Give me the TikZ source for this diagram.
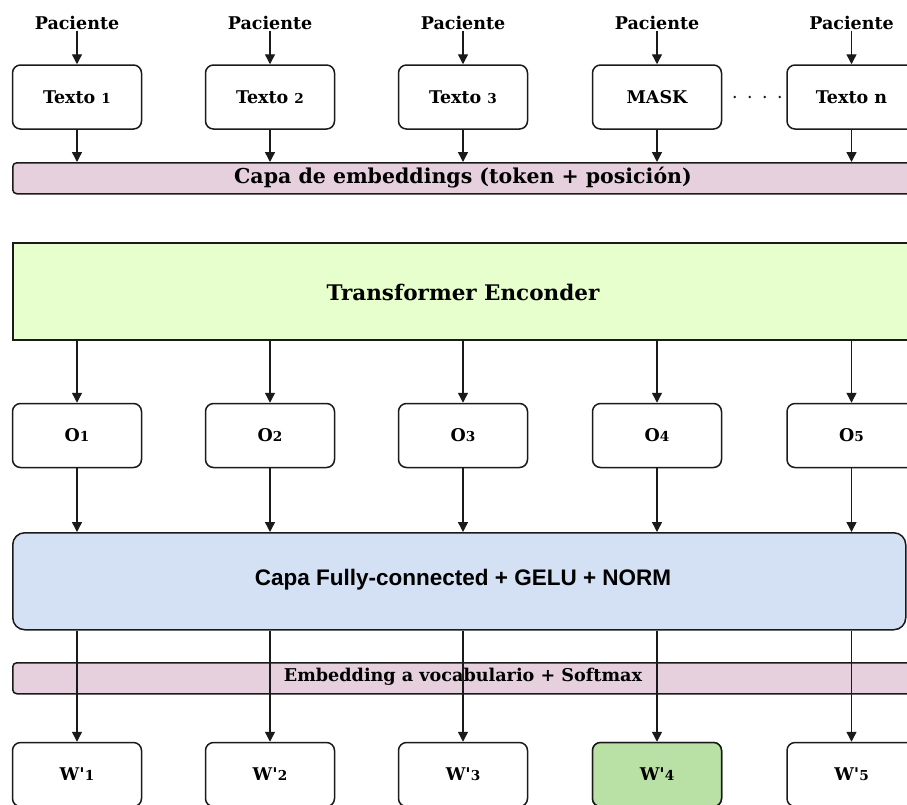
\documentclass[tikz,border=0pt]{standalone}
\usepackage{fontspec}
\usepackage{graphicx}
\setmainfont{DejaVu Serif}
\newfontfamily\headsans{Liberation Sans}
\usetikzlibrary{arrows.meta}

\definecolor{embpink}{HTML}{E6D0DE}
\definecolor{encgreen}{HTML}{E6FFCC}
\definecolor{fcblue}{HTML}{D4E1F5}
\definecolor{predgreen}{HTML}{B9E0A5}
\definecolor{edge}{HTML}{1A1A1A}

% small old-style looking figures
\newcommand{\osn}[1]{\scalebox{0.78}{#1}}
\newcommand{\predword}[1]{W\textquotesingle\osn{#1}}

\tikzset{
  box/.style={draw=edge, line width=1.5pt, rounded corners=8pt, fill=white,
    minimum width=129pt, minimum height=64pt, inner sep=0pt,
    font=\fontsize{17.5}{20}\selectfont\bfseries},
  bar/.style={draw=edge, line width=1.5pt, rounded corners=4pt, fill=embpink,
    minimum height=31pt, inner sep=0pt},
  lbl/.style={inner sep=1pt, font=\fontsize{17.5}{20}\selectfont\bfseries},
  arr/.style={draw=edge, line width=1.4pt, -{Triangle[width=10pt,length=10pt]}},
  x=1pt, y=-1pt
}

\begin{document}
\begin{tikzpicture}
\useasboundingbox (0,0) rectangle (907,804);
\clip (0,0) rectangle (907,804);

% input patient texts
\foreach \i/\x/\t in {1/77/{Texto \osn{1}},2/270/{Texto \osn{2}},3/463/{Texto \osn{3}},4/657/{MASK},5/851.5/{Texto n}}{
  \node[lbl] (p\i) at (\x,23) {Paciente};
  \node[box] (t\i) at (\x,97) {\t};
}
\draw[edge, line width=2.8pt, line cap=round, dash pattern=on 0pt off 15pt]
  ([xshift=12.5pt]t4.east) -- ([xshift=-6pt]t5.west);

% token + position embedding layer
\node[bar, minimum width=910pt, anchor=north west] (emb) at (12,162) {};
\node[font=\fontsize{20.5}{24}\selectfont\bfseries] at (463,178) {Capa de embeddings (token + posición)};

% encoder
\node[draw=edge, line width=1.5pt, fill=encgreen, minimum width=910pt, minimum height=97pt,
  anchor=north west, inner sep=0pt] (enc) at (12,242) {};
\node[font=\fontsize{21.5}{25}\selectfont\bfseries] at (463,292) {Transformer Enconder};

% encoder outputs
\foreach \i/\x in {1/77,2/270,3/463,4/657,5/851.5}{
  \node[box] (o\i) at (\x,435.5) {O\osn{\i}};
}

% prediction head
\node[draw=edge, line width=1.5pt, rounded corners=12pt, fill=fcblue, minimum width=893pt,
  minimum height=97pt, anchor=north west, inner sep=0pt] (fc) at (12,532) {};
\node[font=\headsans\fontsize{22.5}{26}\selectfont\bfseries] at (463,580) {Capa Fully-connected + GELU + NORM};

\node[bar, minimum width=910pt, anchor=north west] (voc) at (12,662) {};
\node[font=\fontsize{17.6}{21}\selectfont\bfseries] at (463,677) {Embedding a vocabulario + Softmax};

% predicted words
\foreach \i/\x in {1/77,2/270,3/463,4/657,5/851.5}{
  \node[box] (w\i) at (\x,774.5) {\predword{\i}};
}
\node[box, fill=predgreen] at (w4) {\predword{4}};

% connectors
\foreach \i in {1,...,5}{
  \draw[arr] (p\i) -- (t\i);
  \draw[arr] (t\i) -- (t\i |- emb.north);
  \draw[arr] (o\i |- enc.south) -- (o\i);
  \draw[arr] (o\i) -- (o\i |- fc.north);
  \draw[arr] (w\i |- fc.south) -- (w\i);
}
\end{tikzpicture}
\end{document}
